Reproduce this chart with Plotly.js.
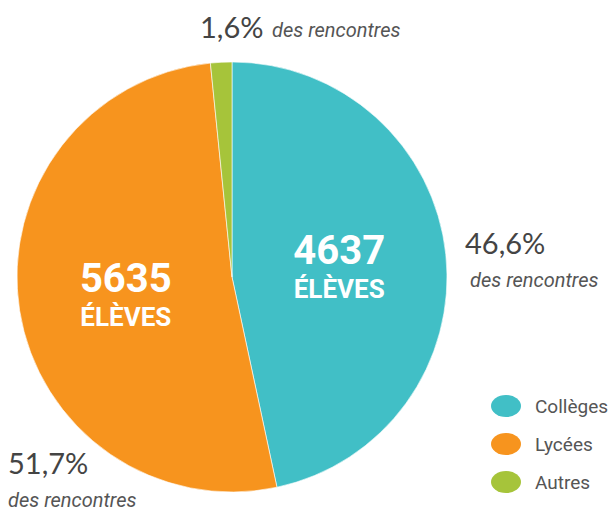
<!DOCTYPE html>
<html>
<head>
<meta charset="utf-8">
<script src="https://cdn.plot.ly/plotly-3.0.1.min.js"></script>
<style>html,body{margin:0;padding:0;background:#fff;}#chart{width:609px;height:513px;}</style>
</head>
<body>
<div id="chart"></div>
<script>
const categories = ["Collèges", "Lycées", "Autres"];
const percents = [46.6, 51.7, 1.6];
const eleves = [4637, 5635, null];
const colors = ["#41BFC6", "#F7941E", "#A6C43A"];
const subLabel = "des rencontres";
const unitLabel = "ÉLÈVES";

const fmtPct = v => v.toFixed(1).replace(".", ",") + "%";

const texts = eleves.map(v => v == null ? "" :
  "<b><span style='font-size:40px'>" + v + "</span></b><br><b>" + unitLabel + "</b>");

const pie = {
  type: "pie",
  labels: categories,
  values: percents,
  text: texts,
  textinfo: "text",
  texttemplate: "%{text}",
  textposition: "inside",
  insidetextorientation: "horizontal",
  insidetextfont: {family: "Roboto, sans-serif", size: 26, color: "#ffffff"},
  sort: false,
  direction: "clockwise",
  rotation: 0,
  marker: {colors: colors, line: {color: "rgba(255,255,255,0.6)", width: 1}},
  domain: {x: [17/609, 447/609], y: [21/513, 451/513]},
  showlegend: false,
  hoverinfo: "label+percent"
};

const pctFont = {family: "Lato, DejaVu Sans, sans-serif", size: 29, color: "#444444"};
const subFont = {family: "Roboto, sans-serif", size: 20, color: "#555555"};

// outer label placements (paper coords) for each category
const labelPos = [
  {px: 463/609, py: 1 - 242/513, sx: 468/609, sy: 1 - 280/513},
  {px: 6/609, py: 1 - 462/513, sx: 6/609, sy: 1 - 500/513},
  {px: 198/609, py: 1 - 26/513, sx: 270/609, sy: 1 - 30/513}
];

const annotations = [];
const shapes = [];
categories.forEach((c, i) => {
  const p = labelPos[i];
  annotations.push({xref: "paper", yref: "paper", x: p.px, y: p.py, xanchor: "left", yanchor: "middle",
    text: fmtPct(percents[i]), showarrow: false, font: pctFont});
  annotations.push({xref: "paper", yref: "paper", x: p.sx, y: p.sy, xanchor: "left", yanchor: "middle",
    text: "<i>" + subLabel + "</i>", showarrow: false, font: subFont});
});

// legend (ellipse swatch + label)
categories.forEach((c, i) => {
  const yc = 406 + i * 38;
  shapes.push({type: "circle", xref: "paper", yref: "paper",
    x0: 491/609, x1: 521/609, y0: 1 - (yc + 11) / 513, y1: 1 - (yc - 11) / 513,
    fillcolor: colors[i], line: {width: 0}});
  annotations.push({xref: "paper", yref: "paper", x: 533/609, y: 1 - yc / 513, xanchor: "left", yanchor: "middle",
    text: c, showarrow: false, font: {family: "Roboto, sans-serif", size: 19, color: "#555555"}});
});

const layout = {
  width: 609, height: 513,
  margin: {l: 0, r: 0, t: 0, b: 0},
  paper_bgcolor: "#ffffff",
  showlegend: false,
  annotations: annotations,
  shapes: shapes
};

Plotly.newPlot("chart", [pie], layout, {displayModeBar: false, staticPlot: true});
</script>
</body>
</html>
